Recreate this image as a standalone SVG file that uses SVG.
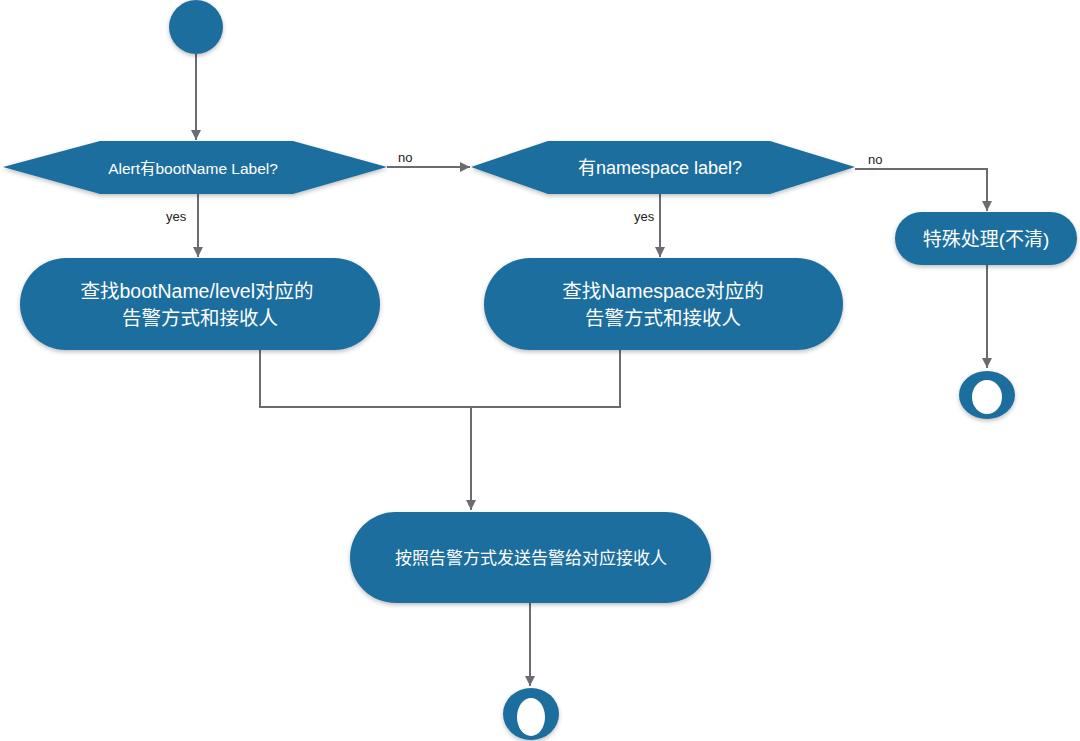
<svg xmlns="http://www.w3.org/2000/svg" width="1080" height="741" viewBox="0 0 1080 741">
<style>
.n{fill:#1f6e9e;filter:url(#sh)}
.t{fill:#ffffff;font-family:"Liberation Sans","Noto Sans CJK SC",sans-serif;text-anchor:middle;dominant-baseline:central}
.c{fill:none;stroke:#6b6b72;stroke-width:2}
.l{fill:#222;font-family:"Liberation Sans","Noto Sans CJK SC",sans-serif;font-size:13px;dominant-baseline:central}
</style>
<defs>
<filter id="sh" x="-10%" y="-10%" width="120%" height="130%">
<feDropShadow dx="0" dy="2" stdDeviation="2" flood-color="#000" flood-opacity="0.25"/>
</filter>
<marker id="ar" viewBox="0 0 10 10" refX="10" refY="5" markerWidth="10" markerHeight="10" markerUnits="userSpaceOnUse" orient="auto">
<path d="M0,0 L10,5 L0,10 Z" fill="#6b6b72"/>
</marker>
</defs>
<rect width="1080" height="741" fill="#ffffff"/>
<g id="connectors">
<path class="c" d="M196,54 V140" marker-end="url(#ar)"/>
<path class="c" d="M387,167 H470" marker-end="url(#ar)"/>
<path class="c" d="M198,194 V257" marker-end="url(#ar)"/>
<path class="c" d="M660,194 V257" marker-end="url(#ar)"/>
<path class="c" d="M855,169 H987 V211" marker-end="url(#ar)"/>
<path class="c" d="M987,265 V368" marker-end="url(#ar)"/>
<path class="c" d="M260,350 V407 H620 V350"/>
<path class="c" d="M471,407 V510" marker-end="url(#ar)"/>
<path class="c" d="M530,603 V686" marker-end="url(#ar)"/>
<text class="l" x="398" y="157">no</text>
<text class="l" x="868" y="159">no</text>
<text class="l" x="166" y="216">yes</text>
<text class="l" x="634" y="216">yes</text>
</g>
<g id="start">
<circle class="n" cx="196" cy="27" r="27"/>
</g>
<g id="decision1">
<polygon class="n" points="3,167 100,141 293,141 387,167 293,194 100,194"/>
<text class="t" x="193" y="168" font-size="15.5">Alert有bootName Label?</text>
</g>
<g id="decision2">
<polygon class="n" points="471,167 548,141 770,141 855,167 770,194 548,194"/>
<text class="t" x="660" y="168" font-size="18">有namespace label?</text>
</g>
<g id="special">
<rect class="n" x="895" y="212" width="182" height="53" rx="26.5"/>
<text class="t" x="986" y="239" font-size="19">特殊处理(不清)</text>
</g>
<g id="box1">
<rect class="n" x="20" y="258" width="360" height="92" rx="46"/>
<text class="t" x="197" y="291" font-size="19.5">查找bootName/level对应的</text>
<text class="t" x="200" y="318" font-size="19.5">告警方式和接收人</text>
</g>
<g id="box2">
<rect class="n" x="484" y="258" width="359" height="92" rx="46"/>
<text class="t" x="663" y="291" font-size="19.5">查找Namespace对应的</text>
<text class="t" x="663" y="318" font-size="19.5">告警方式和接收人</text>
</g>
<g id="box3">
<rect class="n" x="350" y="512" width="361" height="91" rx="45.5"/>
<text class="t" x="531" y="558" font-size="17">按照告警方式发送告警给对应接收人</text>
</g>
<g id="end1">
<ellipse class="n" cx="987" cy="395" rx="28" ry="24"/>
<ellipse cx="987" cy="397" rx="15" ry="17" fill="#ffffff"/>
</g>
<g id="end2">
<ellipse class="n" cx="531" cy="714" rx="28" ry="26"/>
<ellipse cx="531" cy="717" rx="14" ry="19" fill="#ffffff"/>
</g>
</svg>
